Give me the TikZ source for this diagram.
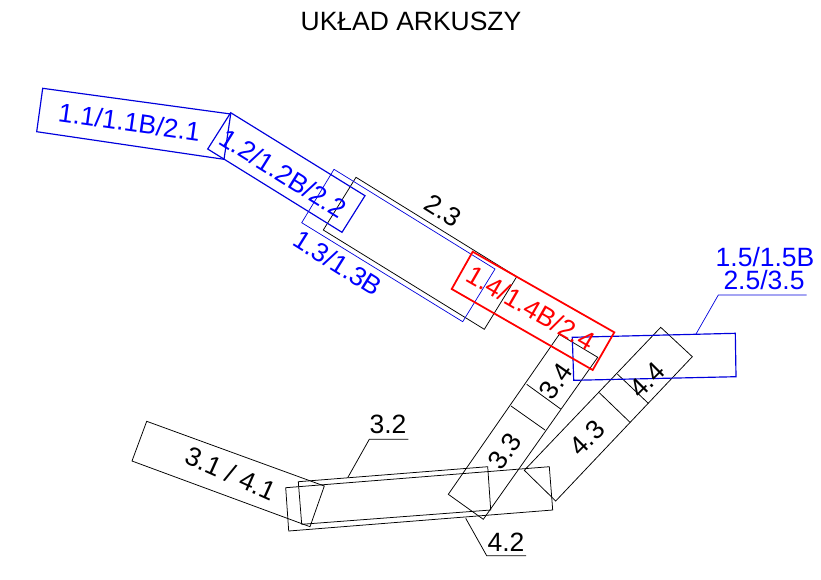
\documentclass[tikz,border=0pt]{standalone}
\usepackage{fontspec}
\setmainfont{Liberation Sans}
\definecolor{sheetblue}{RGB}{0,0,220}
\tikzset{
	sheet/.style={line width=0.65pt, color=black, line join=miter},
	sheetb/.style={line width=1pt, color=sheetblue},
	sheetc/.style={line width=0.6pt, color=sheetblue},
	sheetr/.style={line width=1.5pt, color=red},
	lab/.style={font=\fontsize{22.6}{26}\selectfont, inner sep=0pt, text=black},
	labb/.style={lab, text=blue},
	labr/.style={lab, text=red}
}
\begin{document}
\begin{tikzpicture}[x=0.03cm, y=-0.03cm]
	\useasboundingbox (0, 0) rectangle (821, 579);
	%%%%% TITLE %%%%%
	\node[lab] (title) at (411, 21) {UKŁAD ARKUSZY};

	%%%%% BLUE AND BLACK STRIP AT THE TOP %%%%%
	\draw[sheet] (356, 177.3) -- (516.7, 276.7) -- (484.3, 329.3) -- (323.3, 230) -- cycle;
	\draw[sheetc] (334, 169.3) -- (495, 269) -- (462.7, 321.7) -- (301.7, 222.7) -- cycle;
	\draw[sheetb] (42.7, 88.3) -- (230.7, 114) -- (224, 159.3) -- (36.7, 131.7) -- cycle;
	\draw[sheetb] (230.7, 112.7) -- (365, 195.7) -- (342, 232.3) -- (207.7, 149) -- cycle;

	%%%%% STRIPS ON THE RIGHT %%%%%
	\draw[sheet] (559.3, 334.3) -- (597.7, 357.3) -- (483.3, 519.3) -- (448.3, 494.3) -- cycle;
	\draw[sheet] (526.7, 384.3) -- (560.7, 409);
	\draw[sheet] (511, 406) -- (545, 430);
	\draw[sheet] (660.7, 327.3) -- (692.3, 356.7) -- (555.7, 501) -- (524.3, 470.3) -- cycle;
	\draw[sheet] (617.3, 374) -- (648.3, 403.3);
	\draw[sheet] (599.3, 392.7) -- (630, 422.3);
	\draw[sheetb] (572.3, 337.3) -- (735.3, 333.3) -- (736, 376.7) -- (573.7, 380.3) -- cycle;
	\draw[sheetr] (472.7, 251.7) -- (614.3, 332.3) -- (592.7, 370) -- (451.7, 289) -- cycle;

	%%%%% STRIPS AT THE BOTTOM %%%%%
	\draw[sheet] (146.7, 421.3) -- (324.3, 486) -- (310, 526.7) -- (132, 461) -- cycle;
	\draw[sheet] (298.3, 481.7) -- (487.7, 466.7) -- (490.7, 510) -- (301.7, 524.3) -- cycle;
	\draw[sheet] (285.7, 487.7) -- (549.3, 466.7) -- (552.7, 510) -- (288.7, 531) -- cycle;

	%%%%% LEADERS %%%%%
	\draw[sheetc] (696, 334) -- (718.3, 295) -- (806.7, 295);
	\draw[sheet] (347.7, 477.7) -- (369.3, 439.3) -- (408.3, 439.3);
	\draw[sheet] (465.7, 518.3) -- (486.7, 555.7) -- (526, 555.7);

	%%%%% LABELS %%%%%
	\node[labb, rotate=-8] (sheetA) at (129.5, 122) {1.1/1.1B/2.1};
	\node[labb, rotate=-32] (sheetB) at (283, 173) {1.2/1.2B/2.2};
	\node[labb, rotate=-32] (sheetC) at (338, 263) {1.3/1.3B};
	\node[lab, rotate=-32] (sheetD) at (443, 211) {2.3};
	\node[labr, rotate=-30] (sheetE) at (531, 308) {1.4/1.4B/2.4};
	\node[labb] (sheetF) at (765, 257) {1.5/1.5B};
	\node[labb] (sheetG) at (764, 280) {2.5/3.5};
	\node[lab, rotate=55] (sheetH) at (556, 381) {3.4};
	\node[lab, rotate=55] (sheetI) at (505, 451) {3.3};
	\node[lab, rotate=45] (sheetJ) at (647, 380) {4.4};
	\node[lab, rotate=45] (sheetK) at (587, 438) {4.3};
	\node[lab, rotate=-24] (sheetL) at (231, 473) {3.1 / 4.1};
	\node[lab] (sheetM) at (388, 424) {3.2};
	\node[lab] (sheetN) at (506, 542) {4.2};
\end{tikzpicture}
\end{document}
